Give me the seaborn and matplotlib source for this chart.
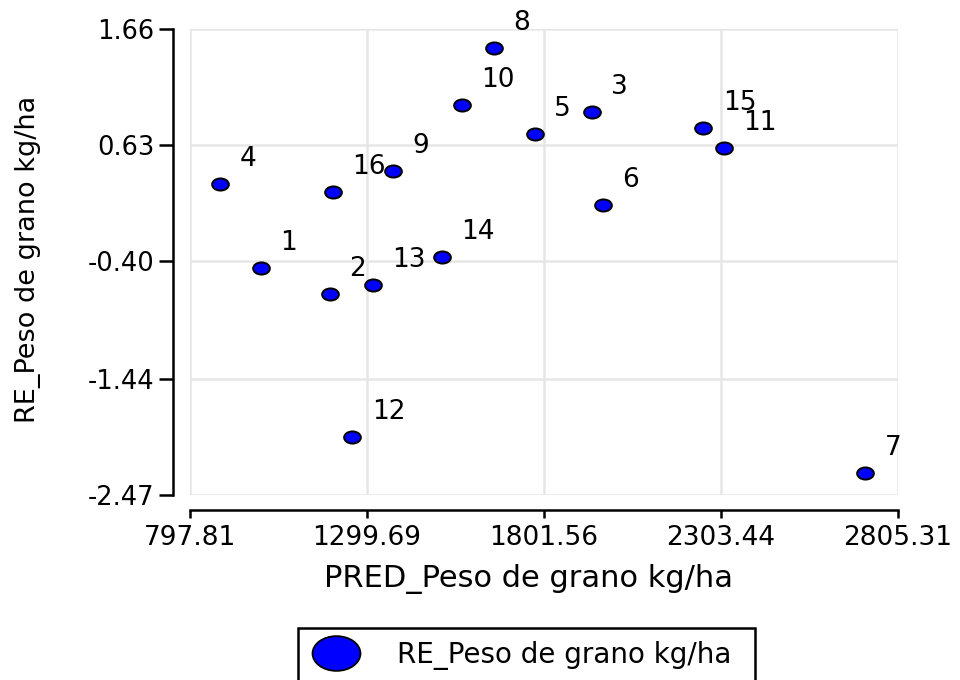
import numpy as np
import pandas as pd
import seaborn as sns
import matplotlib
matplotlib.use("Agg")
import matplotlib.pyplot as plt
from matplotlib.path import Path
from matplotlib.transforms import Affine2D
from matplotlib.lines import Line2D

# ---- data ----
ids = [1, 2, 3, 4, 5, 6, 7, 8, 9, 10, 11, 12, 13, 14, 15, 16]
pred = [999.1, 1194.8, 1936.8, 882.9, 1776.0, 1968.0, 2711.8, 1659.8,
        1374.3, 1568.2, 2312.0, 1258.0, 1315.9, 1512.3, 2253.3, 1202.4]
resid = [-0.461, -0.689, 0.927, 0.284, 0.727, 0.100, -2.278, 1.489,
         0.401, 0.986, 0.608, -1.953, -0.609, -0.363, 0.785, 0.218]
x_ticks = [797.81, 1299.69, 1801.56, 2303.44, 2805.31]
y_ticks = [-2.47, -1.44, -0.40, 0.63, 1.66]
x_label = "PRED_Peso de grano kg/ha"
y_label = "RE_Peso de grano kg/ha"
series_name = "RE_Peso de grano kg/ha"

df = pd.DataFrame({"id": ids, "pred": pred, "resid": resid})

sns.set_style("white")
plt.rcParams["font.family"] = ["DejaVu Sans"]
plt.rcParams["text.color"] = "black"
plt.rcParams["axes.labelcolor"] = "black"
plt.rcParams["xtick.color"] = "black"
plt.rcParams["ytick.color"] = "black"

W, H = 960, 680
fig = plt.figure(figsize=(W / 100, H / 100), dpi=100)
ax = fig.add_axes([190 / W, 1 - 495 / H, 708 / W, 466 / H])

ellipse = Path.unit_circle().transformed(Affine2D().scale(1.38, 1.0))

sns.scatterplot(data=df, x="pred", y="resid", marker=ellipse, s=145,
                color="#0000ff", edgecolor="black", linewidth=1.4,
                ax=ax, legend=False, zorder=3)

for _, r in df.iterrows():
    ax.annotate(str(int(r["id"])), (r["pred"], r["resid"]), xytext=(14, 18),
                textcoords="offset points", ha="left", va="center",
                fontsize=19, color="black", zorder=4)

ax.set_xlim(x_ticks[0], x_ticks[-1])
ax.set_ylim(y_ticks[0], y_ticks[-1])
ax.set_xticks(x_ticks)
ax.set_yticks(y_ticks)
ax.set_xticklabels([f"{v:.2f}" for v in x_ticks])
ax.set_yticklabels([f"{v:.2f}" for v in y_ticks])

ax.grid(True, color="#e6e6e6", linewidth=1.8)
ax.set_axisbelow(True)

for s in ["top", "right"]:
    ax.spines[s].set_visible(False)
ax.spines["left"].set_position(("outward", 12.5))
ax.spines["bottom"].set_position(("outward", 10.5))
for s in ["left", "bottom"]:
    ax.spines[s].set_color("black")
    ax.spines[s].set_linewidth(1.8)

ax.tick_params(axis="x", direction="out", length=6, width=1.8, pad=5,
               labelsize=19, colors="black", bottom=True)
ax.tick_params(axis="y", direction="out", length=10, width=1.8, pad=3,
               labelsize=18.5, colors="black", left=True)

ax.set_xlabel(x_label, fontsize=22, color="black")
ax.set_ylabel(y_label, fontsize=19.5, color="black")
ax.xaxis.set_label_coords((529 - 190) / 708, -0.148)
ax.yaxis.set_label_coords((41 - 190) / 708, 0.506)

handle = Line2D([], [], linestyle="none", marker=ellipse, markersize=34.5,
                markerfacecolor="#0000ff", markeredgecolor="black",
                markeredgewidth=1.3)
leg = fig.legend(handles=[handle], labels=[series_name], loc="upper left",
                 bbox_to_anchor=(298 / W, 1 - 628 / H - 0.01, 457 / W, 0.01),
                 bbox_transform=fig.transFigure, fontsize=20, mode="expand",
                 frameon=True, fancybox=False, edgecolor="black",
                 borderpad=0.45, borderaxespad=0, handlelength=1.8,
                 handletextpad=1.3)
leg.get_frame().set_linewidth(1.8)
leg.get_frame().set_alpha(1)
for t in leg.get_texts():
    t.set_color("black")

fig.savefig("out.png", dpi=100)
